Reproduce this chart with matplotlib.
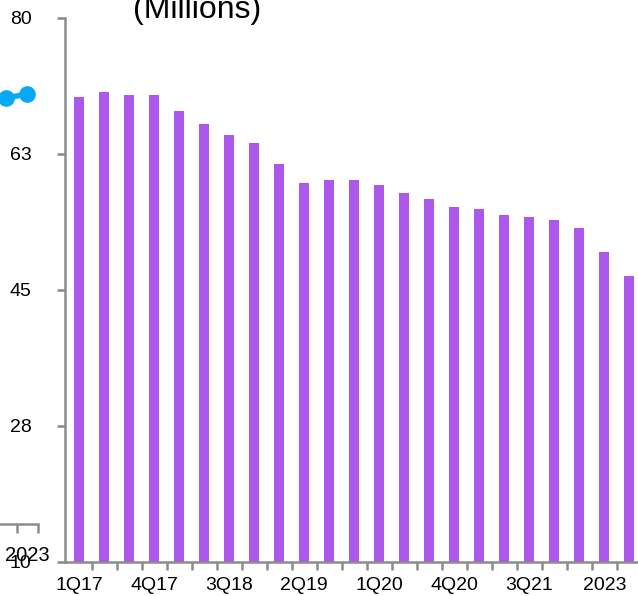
import matplotlib
matplotlib.use("Agg")
import matplotlib.pyplot as plt
import numpy as np

plt.rcParams['font.family'] = ['Liberation Sans', 'DejaVu Sans']

# quarterly values (millions), 1Q17 onwards
subscribers = [69.8, 70.5, 70.1, 70.1, 68.0, 66.4, 64.9, 63.9, 61.2, 58.8,
               59.2, 59.2, 58.5, 57.5, 56.7, 55.7, 55.4, 54.6, 54.4, 54.0,
               53.0, 49.9, 46.8]
tick_labels = ['1Q17', '4Q17', '3Q18', '2Q19', '1Q20', '4Q20', '3Q21', '2023']
y_ticks = [10, 27.5, 45, 62.5, 80]
y_tick_labels = ['10', '28', '45', '63', '80']

# fragment of the neighbouring chart on the left
left_values = [68.9, 69.5]
left_label = '2023'

bar_color = '#ad58ec'
axis_color = '#8c8c8c'
W, H = 638, 596

fig = plt.figure(figsize=(W / 100, H / 100), dpi=100)

# main chart
x = np.arange(len(subscribers))
unit = 25.02
x0 = -0.56
ax = fig.add_axes([65 / W, (H - 562) / H, (len(x) - 0.5 - x0) * unit / W, 544 / H])
ax.bar(x, subscribers, width=0.4, color=bar_color)
ax.set_xlim(x0, len(x) - 0.5)
ax.set_ylim(10, 80)
for s in ['top', 'right']:
    ax.spines[s].set_visible(False)
for s in ['left', 'bottom']:
    ax.spines[s].set_color(axis_color)
    ax.spines[s].set_linewidth(1.8)
ax.set_yticks(y_ticks)
ax.set_yticklabels(y_tick_labels, fontsize=14)
ax.tick_params(axis='y', direction='out', length=6, width=1.8, color=axis_color, pad=18)
ax.set_xticks(x[::3])
ax.set_xticklabels(tick_labels, fontsize=14)
ax.set_xticks(x[:-1] + 0.5, minor=True)
ax.tick_params(axis='x', which='major', length=0, pad=10.5)
ax.tick_params(axis='x', which='minor', direction='out', length=5.5, width=1.8, color=axis_color)

fig.text(197 / W, (H - 18) / H, '(Millions)', fontsize=23, ha='center', va='baseline')

# cut-off neighbour chart
lu = 21
lax = fig.add_axes([(37.5 - 5 * lu) / W, (H - 524) / H, 5 * lu / W, 506 / H])
lax.patch.set_alpha(0)
lax.plot([0, 1], left_values, color='#0aa9f5', lw=4, marker='o', ms=11)
lax.set_xlim(-3.5, 1.5)
lax.set_ylim(10, 80)
for s in ['top', 'right', 'left']:
    lax.spines[s].set_visible(False)
lax.spines['bottom'].set_color(axis_color)
lax.spines['bottom'].set_linewidth(1.8)
lax.set_yticks([])
lax.set_xticks([1])
lax.set_xticklabels([left_label], fontsize=14.5)
lax.set_xticks([-0.5, 0.5, 1.5], minor=True)
lax.tick_params(axis='x', which='major', length=0, pad=16)
lax.tick_params(axis='x', which='minor', direction='out', length=6.5, width=1.8, color=axis_color)

fig.savefig('out.png', dpi=100)
